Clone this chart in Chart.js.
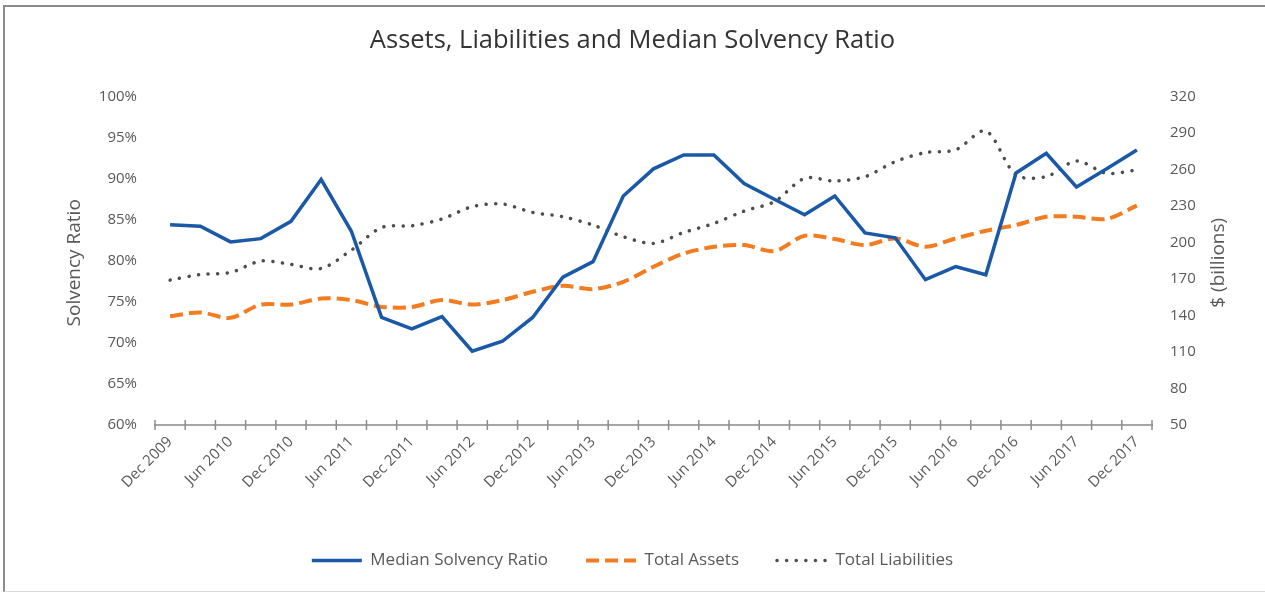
<!DOCTYPE html>
<html>
<head>
<meta charset="utf-8">
<script src="https://cdn.jsdelivr.net/npm/chart.js@4.4.0/dist/chart.umd.min.js"></script>
<style>
  html, body { margin: 0; padding: 0; background: #fff; overflow: hidden; }
  #wrap { position: relative; width: 1265px; height: 592px; }
  #frame { position: absolute; left: 3px; top: 5px; width: 1280px; height: 584px;
           border-top: 2px solid #8c8c8c; border-left: 2px solid #8c8c8c;
           border-bottom: 1px solid #d9d9d9; pointer-events: none; }
</style>
</head>
<body>
<div id="wrap">
  <canvas id="solvencyChart" width="1265" height="592"></canvas>
  <div id="frame"></div>
</div>
<script>
// Trimestres, de Dec 2009 a Dec 2017
const quarters = [
  "Dec 2009", "Mar 2010", "Jun 2010", "Sep 2010", "Dec 2010", "Mar 2011", "Jun 2011", "Sep 2011",
  "Dec 2011", "Mar 2012", "Jun 2012", "Sep 2012", "Dec 2012", "Mar 2013", "Jun 2013", "Sep 2013",
  "Dec 2013", "Mar 2014", "Jun 2014", "Sep 2014", "Dec 2014", "Mar 2015", "Jun 2015", "Sep 2015",
  "Dec 2015", "Mar 2016", "Jun 2016", "Sep 2016", "Dec 2016", "Mar 2017", "Jun 2017", "Sep 2017",
  "Dec 2017"
];

// Valores
const solvencyRatio = [84.4, 84.2, 82.3, 82.7, 84.8, 89.9, 83.6, 73.1, 71.7, 73.2, 69.0, 70.2, 73.1,
  78.0, 79.9, 87.9, 91.2, 92.9, 92.9, 89.4, 87.5, 85.6, 87.9, 83.4, 82.8, 77.7, 79.3, 78.3,
  90.7, 93.1, 89.0, 91.2, 93.5];
const totalAssets = [139.5, 142.5, 138.1, 149.0, 149.0, 154.0, 152.7, 147.1, 147.1, 152.7, 149.0,
  152.7, 159.5, 164.4, 161.7, 167.7, 180.1, 191.0, 196.5, 197.9, 193.0, 205.6, 202.9, 197.9,
  203.4, 196.5, 203.4, 209.7, 214.4, 221.2, 221.2, 219.4, 230.3];
const totalLiabilities = [169.1, 173.7, 175.4, 184.8, 182.0, 178.7, 193.8, 212.4, 213.8, 219.4,
  229.5, 231.7, 224.8, 221.2, 214.4, 204.8, 199.3, 208.3, 215.7, 225.9, 233.6, 252.8, 250.6,
  254.2, 266.5, 274.0, 276.2, 291.8, 255.6, 254.2, 267.1, 256.9, 259.7];

// Escalas
const ratioTicks = { min: 60, max: 100, step: 5 };
const moneyTicks = { min: 50, max: 320, step: 30 };

const textColor = "#595959";
const fontFamily = '"Open Sans", "Liberation Sans", sans-serif';

// Marcas do eixo x e títulos dos eixos
const extras = {
  id: "extras",
  afterDraw(chart) {
    const { ctx, chartArea, scales: { x } } = chart;
    const step = x.getPixelForValue(1) - x.getPixelForValue(0);
    ctx.save();
    ctx.strokeStyle = "#8c8c8c";
    ctx.lineWidth = 1.5;
    for (let i = 0; i <= quarters.length; i++) {
      const px = x.getPixelForValue(0) + (i - 0.5) * step;
      ctx.beginPath();
      ctx.moveTo(px, chartArea.bottom - 5);
      ctx.lineTo(px, chartArea.bottom + 5);
      ctx.stroke();
    }
    const midY = (chartArea.top + chartArea.bottom) / 2 + 2;
    ctx.fillStyle = textColor;
    ctx.font = "19px " + fontFamily;
    ctx.textAlign = "center";
    ctx.textBaseline = "middle";
    ctx.save();
    ctx.translate(chartArea.left - 80, midY);
    ctx.rotate(-Math.PI / 2);
    ctx.fillText("Solvency Ratio", 0, 0);
    ctx.restore();
    ctx.translate(chartArea.right + 67, midY);
    ctx.rotate(-Math.PI / 2);
    ctx.fillText("$ (billions)", 0, 0);
    ctx.restore();
  }
};

const ctx = document.getElementById("solvencyChart").getContext("2d");
new Chart(ctx, {
  type: "line",
  data: {
    labels: quarters,
    datasets: [
      {
        label: "Median Solvency Ratio", data: solvencyRatio, yAxisID: "y",
        borderColor: "#1a58a8", backgroundColor: "#1a58a8", borderWidth: 3.5,
        pointRadius: 0, tension: 0
      },
      {
        label: "Total Assets", data: totalAssets, yAxisID: "y1",
        borderColor: "#f47c20", backgroundColor: "#f47c20", borderWidth: 4,
        borderDash: [13, 6], pointRadius: 0, tension: 0.3
      },
      {
        label: "Total Liabilities", data: totalLiabilities, yAxisID: "y1",
        borderColor: "#4d4d4d", backgroundColor: "#4d4d4d", borderWidth: 3.5,
        borderDash: [0.1, 9.5], borderCapStyle: "round", pointRadius: 0, tension: 0.3
      }
    ]
  },
  options: {
    responsive: false,
    animation: false,
    layout: { padding: { left: 0, right: 0, top: 0, bottom: 13 } },
    plugins: {
      title: {
        display: true,
        text: "Assets, Liabilities and Median Solvency Ratio",
        color: "#333333",
        font: { family: fontFamily, size: 25.5, weight: "normal" },
        padding: { top: 25, bottom: 41 }
      },
      legend: {
        position: "bottom",
        labels: {
          color: textColor,
          font: { family: fontFamily, size: 17 },
          usePointStyle: true,
          pointStyleWidth: 50,
          padding: 38,
          // lista da legenda com o tracejado de cada série
          generateLabels: (chart) => chart.data.datasets.map((ds, i) => ({
            text: ds.label,
            fillStyle: ds.borderColor,
            strokeStyle: ds.borderColor,
            fontColor: textColor,
            lineWidth: ds.borderWidth,
            lineDash: ds.borderDash || [],
            lineCap: ds.borderCapStyle || "butt",
            pointStyle: "line",
            hidden: false,
            datasetIndex: i
          }))
        }
      },
      tooltip: { enabled: false }
    },
    scales: {
      x: {
        offset: true,
        grid: { display: false, drawTicks: false },
        border: { display: true, color: "#a6a6a6", width: 2 },
        ticks: {
          autoSkip: false, maxRotation: 45, minRotation: 45, padding: 8,
          color: textColor, font: { family: fontFamily, size: 15 },
          callback: function (value, index) {
            return index % 2 === 0 ? this.getLabelForValue(value) : "";
          }
        },
        afterFit: (scale) => { scale.height = 89; }
      },
      y: {
        position: "left",
        min: ratioTicks.min, max: ratioTicks.max,
        grid: { display: false, drawTicks: false },
        border: { display: false },
        ticks: {
          stepSize: ratioTicks.step, padding: 18, color: textColor,
          font: { family: fontFamily, size: 15 },
          callback: (v) => v + "%"
        },
        afterFit: (scale) => { scale.width = 155; }
      },
      y1: {
        position: "right",
        min: moneyTicks.min, max: moneyTicks.max,
        grid: { display: false, drawTicks: false },
        border: { display: false },
        ticks: {
          stepSize: moneyTicks.step, padding: 18, color: textColor,
          font: { family: fontFamily, size: 15 }
        },
        afterFit: (scale) => { scale.width = 113; }
      }
    }
  },
  plugins: [extras]
});
</script>
</body>
</html>
